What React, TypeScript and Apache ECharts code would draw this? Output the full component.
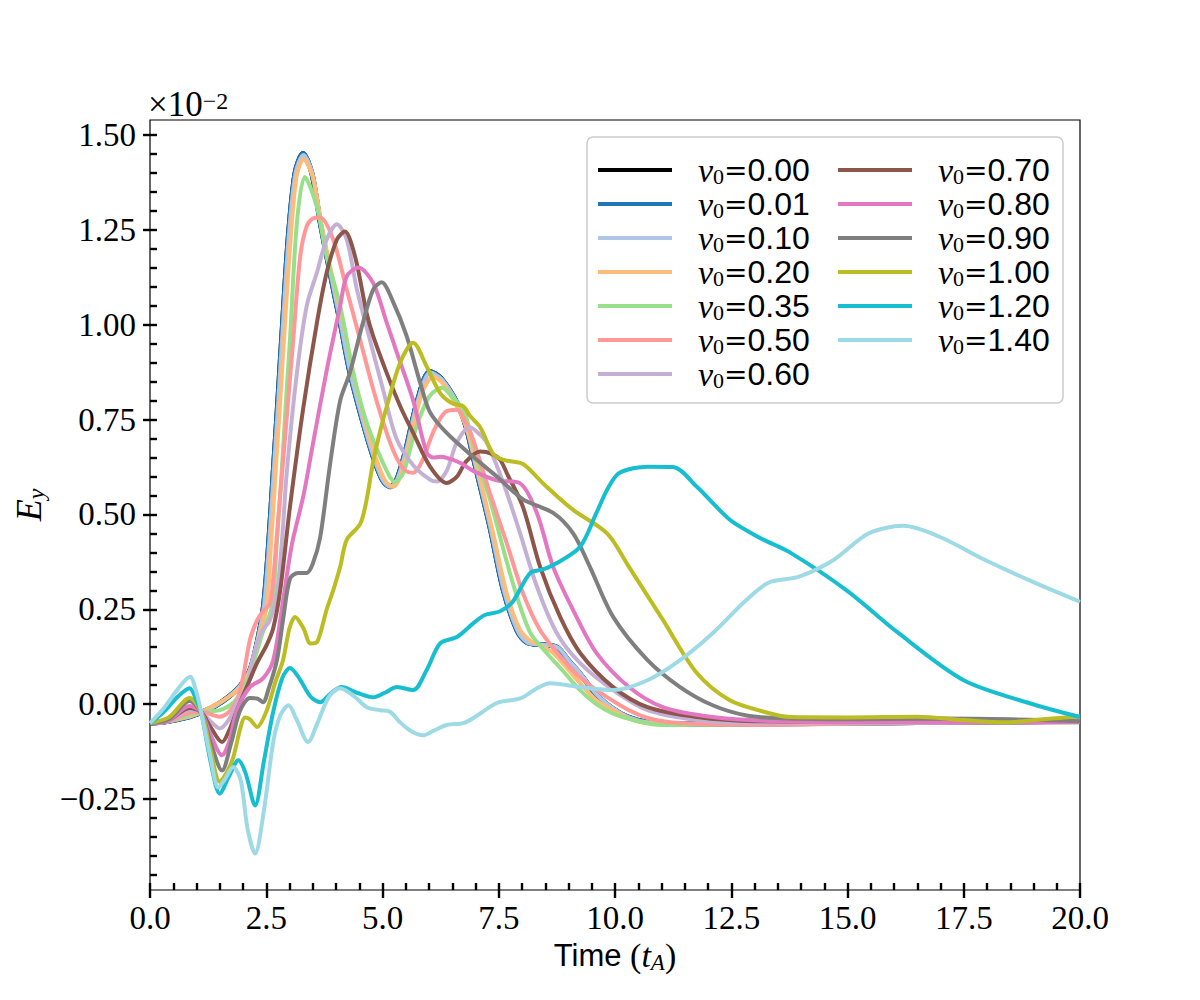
import React, { useEffect, useRef } from "react";
import * as echarts from "echarts";

// ---- Data (displayed units, ×10^-2) ----
const NAMES = ["v0=0.00", "v0=0.01", "v0=0.10", "v0=0.20", "v0=0.35", "v0=0.50", "v0=0.60", "v0=0.70", "v0=0.80", "v0=0.90", "v0=1.00", "v0=1.20", "v0=1.40"];
const COLORS = ["#000000", "#1f77b4", "#aec7e8", "#ffbb78", "#98df8a", "#ff9896", "#c5b0d5", "#8c564b", "#e377c2", "#7f7f7f", "#bcbd22", "#17becf", "#9edae5"];

const X_MAJOR = [0, 2.5, 5, 7.5, 10, 12.5, 15, 17.5, 20];
const Y_MAJOR = [-0.25, 0, 0.25, 0.5, 0.75, 1.0, 1.25, 1.5];

const S_BASE: number[][] = [
  [0, -0.05], [0.4, -0.045], [0.8, -0.035], [1.1, -0.022], [1.4, -0.005], [1.7, 0.02], [1.95, 0.05], [2.15, 0.09], [2.3, 0.16],
  [2.44, 0.257], [2.55, 0.42], [2.65, 0.61], [2.75, 0.8], [2.83, 0.96], [2.97, 1.225], [3.12, 1.4], [3.29, 1.452], [3.48, 1.4],
  [3.66, 1.27], [3.87, 1.138], [4.09, 1.006], [4.3, 0.874], [4.58, 0.742], [4.8, 0.652], [5.0, 0.59], [5.16, 0.573], [5.3, 0.59],
  [5.5, 0.67], [5.75, 0.8], [6.02, 0.877], [6.25, 0.86], [6.6, 0.795], [6.8, 0.73], [6.95, 0.652], [7.31, 0.467], [7.6, 0.3],
  [7.89, 0.195], [8.1, 0.163], [8.3, 0.158], [8.75, 0.15], [9.0, 0.115], [9.25, 0.08], [9.6, 0.025], [9.96, -0.012], [10.3, -0.035],
  [10.7, -0.048], [11.5, -0.052], [12.5, -0.053], [13.5, -0.052], [15, -0.05], [17, -0.048], [20, -0.045],
];
const S000 = S_BASE;
const S001 = S_BASE;
const S010: number[][] = [
  [0, -0.05], [0.4, -0.045], [0.8, -0.035], [1.1, -0.022], [1.4, -0.005], [1.7, 0.02], [1.95, 0.05], [2.15, 0.09], [2.3, 0.16],
  [2.45, 0.257], [2.56, 0.42], [2.66, 0.61], [2.76, 0.8], [2.84, 0.96], [2.98, 1.225], [3.13, 1.4], [3.3, 1.448], [3.49, 1.4],
  [3.67, 1.27], [3.88, 1.138], [4.1, 1.006], [4.31, 0.874], [4.59, 0.742], [4.81, 0.652], [5.01, 0.59], [5.17, 0.573], [5.31, 0.59],
  [5.51, 0.67], [5.76, 0.8], [6.03, 0.874], [6.26, 0.858], [6.61, 0.793], [6.81, 0.73], [6.96, 0.652], [7.32, 0.467], [7.61, 0.3],
  [7.9, 0.195], [8.11, 0.163], [8.31, 0.158], [8.76, 0.15], [9.01, 0.115], [9.26, 0.08], [9.61, 0.025], [9.97, -0.012], [10.3, -0.035],
  [10.7, -0.048], [11.5, -0.052], [12.5, -0.053], [13.5, -0.052], [15, -0.05], [17, -0.048], [20, -0.045],
];
const S020: number[][] = [
  [0, -0.05], [0.4, -0.045], [0.8, -0.033], [1.1, -0.021], [1.4, -0.002], [1.7, 0.02], [1.95, 0.045], [2.15, 0.09], [2.3, 0.16],
  [2.51, 0.257], [2.6, 0.42], [2.7, 0.61], [2.8, 0.8], [2.88, 0.96], [3.02, 1.22], [3.15, 1.39], [3.3, 1.437], [3.5, 1.39],
  [3.68, 1.27], [3.9, 1.138], [4.15, 1.006], [4.37, 0.874], [4.63, 0.742], [4.85, 0.652], [5.05, 0.59], [5.23, 0.573], [5.38, 0.6],
  [5.6, 0.7], [5.85, 0.82], [6.09, 0.863], [6.3, 0.845], [6.6, 0.785], [6.8, 0.73], [7.03, 0.627], [7.38, 0.45], [7.67, 0.293],
  [7.96, 0.195], [8.2, 0.165], [8.32, 0.16], [8.67, 0.135], [9.0, 0.09], [9.25, 0.055], [9.6, 0.01], [9.96, -0.016], [10.3, -0.038],
  [10.7, -0.05], [12, -0.053], [14, -0.05], [17, -0.047], [20, -0.043],
];
const S035: number[][] = [
  [0, -0.05], [0.4, -0.045], [0.8, -0.03], [1.1, -0.021], [1.5, -0.016], [1.8, 0.005], [2.0, 0.04], [2.2, 0.1], [2.4, 0.18],
  [2.62, 0.257], [2.73, 0.43], [2.83, 0.61], [2.92, 0.79], [3.01, 0.96], [3.16, 1.27], [3.33, 1.39], [3.59, 1.31], [3.8, 1.18],
  [4.09, 1.05], [4.37, 0.874], [4.66, 0.742], [5.01, 0.636], [5.27, 0.586], [5.45, 0.61], [5.7, 0.72], [6.0, 0.81], [6.28, 0.834],
  [6.5, 0.81], [6.74, 0.776], [6.9, 0.71], [7.1, 0.62], [7.31, 0.54], [7.8, 0.32], [8.17, 0.19], [8.53, 0.135], [8.9, 0.085],
  [9.25, 0.037], [9.6, 0.0], [9.96, -0.025], [10.5, -0.045], [11, -0.055], [13, -0.053], [16, -0.05], [20, -0.045],
];
const S050: number[][] = [
  [0, -0.05], [0.4, -0.045], [0.8, -0.025], [1.1, -0.021], [1.5, -0.033], [1.7, -0.02], [1.87, 0.01], [2.0, 0.07], [2.15, 0.17],
  [2.3, 0.22], [2.43, 0.245], [2.58, 0.265], [2.65, 0.33], [2.72, 0.433], [2.9, 0.697], [3.08, 0.96], [3.23, 1.18], [3.37, 1.26],
  [3.5, 1.28], [3.66, 1.283], [3.94, 1.225], [4.23, 1.093], [4.52, 0.96], [4.8, 0.83], [5.09, 0.715], [5.3, 0.65], [5.5, 0.615],
  [5.66, 0.61], [5.85, 0.64], [6.1, 0.72], [6.35, 0.77], [6.6, 0.776], [6.8, 0.74], [6.95, 0.697], [7.31, 0.557], [7.67, 0.425],
  [8.02, 0.293], [8.39, 0.195], [8.89, 0.116], [9.25, 0.07], [9.6, 0.037], [10.3, -0.016], [10.8, -0.04], [11.4, -0.05],
  [13, -0.055], [15, -0.052], [20, -0.045],
];
const S060: number[][] = [
  [0, -0.05], [0.4, -0.045], [0.85, -0.015], [1.1, -0.021], [1.3, -0.045], [1.5, -0.064], [1.7, -0.04], [1.87, 0.003], [2.08, 0.045],
  [2.22, 0.125], [2.4, 0.19], [2.58, 0.222], [2.73, 0.293], [2.85, 0.45], [2.94, 0.61], [3.16, 0.874], [3.37, 1.05], [3.59, 1.138],
  [3.8, 1.225], [4.02, 1.265], [4.23, 1.225], [4.45, 1.093], [4.73, 0.96], [5.01, 0.83], [5.3, 0.7], [5.66, 0.63], [6.02, 0.592],
  [6.17, 0.587], [6.38, 0.615], [6.6, 0.69], [6.88, 0.73], [7.1, 0.71], [7.24, 0.69], [7.6, 0.583], [7.96, 0.45], [8.32, 0.31],
  [8.75, 0.187], [9.25, 0.108], [9.96, 0.037], [10.7, -0.016], [11.76, -0.042], [13, -0.05], [16, -0.05], [20, -0.047],
];
const S070: number[][] = [
  [0, -0.05], [0.4, -0.043], [0.85, -0.01], [1.1, -0.021], [1.3, -0.06], [1.55, -0.1], [1.7, -0.07], [1.87, -0.016], [2.08, 0.045],
  [2.3, 0.108], [2.51, 0.156], [2.65, 0.2], [2.8, 0.3], [3.01, 0.52], [3.3, 0.784], [3.59, 1.006], [3.8, 1.138], [4.02, 1.225],
  [4.19, 1.246], [4.41, 1.18], [4.66, 1.03], [4.8, 0.97], [5.1, 0.87], [5.4, 0.78], [5.66, 0.715], [6.02, 0.627], [6.38, 0.583],
  [6.6, 0.6], [6.8, 0.64], [7.1, 0.666], [7.35, 0.66], [7.53, 0.644], [7.67, 0.61], [8.02, 0.52], [8.39, 0.362], [8.82, 0.23],
  [9.25, 0.135], [9.96, 0.045], [10.7, -0.008], [11.76, -0.034], [13, -0.045], [16, -0.047], [20, -0.048],
];
const S080: number[][] = [
  [0, -0.05], [0.4, -0.043], [0.85, -0.005], [1.1, -0.021], [1.3, -0.08], [1.55, -0.135], [1.7, -0.1], [1.87, -0.016], [2.15, 0.045],
  [2.43, 0.068], [2.65, 0.116], [2.87, 0.28], [3.05, 0.42], [3.3, 0.55], [3.51, 0.69], [3.8, 0.88], [4.09, 1.05], [4.23, 1.128],
  [4.48, 1.151], [4.8, 1.11], [5.09, 1.006], [5.3, 0.93], [5.66, 0.8], [5.95, 0.663], [6.1, 0.65], [6.24, 0.652], [6.67, 0.636],
  [6.95, 0.615], [7.46, 0.59], [7.96, 0.582], [8.32, 0.504], [8.67, 0.362], [9.1, 0.248], [9.6, 0.135], [10.3, 0.045], [11.03, -0.008],
  [12.1, -0.034], [13.5, -0.045], [16, -0.048], [20, -0.047],
];
const S090: number[][] = [
  [0, -0.05], [0.4, -0.04], [0.85, 0.008], [1.1, -0.021], [1.3, -0.1], [1.55, -0.175], [1.75, -0.1], [1.94, -0.016], [2.15, 0.016],
  [2.3, 0.015], [2.43, 0.005], [2.55, 0.04], [2.73, 0.116], [2.87, 0.23], [3.01, 0.33], [3.18, 0.346], [3.37, 0.346], [3.5, 0.37],
  [3.66, 0.44], [3.87, 0.63], [4.09, 0.8], [4.3, 0.874], [4.58, 1.006], [4.8, 1.093], [4.98, 1.112], [5.23, 1.06], [5.52, 0.97],
  [5.81, 0.847], [6.02, 0.77], [6.38, 0.715], [6.95, 0.652], [7.46, 0.6], [8.02, 0.54], [8.67, 0.504], [9.1, 0.45], [9.46, 0.362],
  [9.96, 0.23], [10.7, 0.116], [11.4, 0.045], [12.1, -0.003], [12.83, -0.03], [13.55, -0.037], [15, -0.04], [17, -0.038],
  [18.5, -0.04], [20, -0.045],
];
const S100: number[][] = [
  [0, -0.05], [0.4, -0.035], [0.85, 0.016], [1.1, -0.021], [1.3, -0.12], [1.5, -0.205], [1.65, -0.18], [1.79, -0.14], [1.95, -0.06],
  [2.04, -0.035], [2.15, -0.04], [2.3, -0.06], [2.5, -0.02], [2.7, 0.06], [2.86, 0.116], [3.0, 0.2], [3.12, 0.23], [3.3, 0.2],
  [3.45, 0.16], [3.6, 0.165], [3.8, 0.25], [3.94, 0.3], [4.09, 0.362], [4.23, 0.433], [4.52, 0.475], [4.66, 0.54], [4.8, 0.64],
  [4.95, 0.72], [5.09, 0.784], [5.38, 0.9], [5.66, 0.953], [5.95, 0.89], [6.24, 0.82], [6.5, 0.793], [6.74, 0.785], [6.88, 0.76],
  [7.1, 0.73], [7.38, 0.66], [7.6, 0.644], [7.96, 0.636], [8.1, 0.626], [8.53, 0.573], [9.1, 0.512], [9.83, 0.45], [10.3, 0.362],
  [11.03, 0.222], [11.76, 0.082], [12.47, 0.01], [13.2, -0.02], [13.76, -0.034], [15, -0.035], [16.5, -0.033], [17.5, -0.042],
  [18.4, -0.048], [19.2, -0.04], [20, -0.032],
];
const S120: number[][] = [
  [0, -0.05], [0.3, -0.02], [0.6, 0.02], [0.85, 0.042], [1.0, 0.01], [1.1, -0.021], [1.3, -0.15], [1.5, -0.236], [1.7, -0.19],
  [1.9, -0.148], [2.05, -0.18], [2.26, -0.267], [2.45, -0.15], [2.65, -0.02], [2.85, 0.07], [3.01, 0.095], [3.2, 0.07], [3.45, 0.02],
  [3.66, 0.005], [3.9, 0.03], [4.12, 0.045], [4.45, 0.03], [4.8, 0.018], [5.05, 0.03], [5.31, 0.045], [5.66, 0.037], [5.95, 0.09],
  [6.24, 0.16], [6.6, 0.177], [6.95, 0.213], [7.2, 0.235], [7.53, 0.245], [7.8, 0.27], [8.17, 0.345], [8.45, 0.355], [8.75, 0.372],
  [9.25, 0.415], [9.6, 0.504], [9.85, 0.57], [10.1, 0.61], [10.7, 0.626], [11.25, 0.625], [11.76, 0.573], [12.47, 0.486],
  [13.0, 0.446], [13.2, 0.433], [13.76, 0.4], [14.98, 0.3], [16.1, 0.187], [17.5, 0.063], [18.9, 0.003], [20, -0.034],
];
const S140: number[][] = [
  [0, -0.05], [0.3, -0.01], [0.6, 0.04], [0.86, 0.072], [1.0, 0.03], [1.1, -0.021], [1.3, -0.14], [1.47, -0.22], [1.6, -0.2],
  [1.79, -0.166], [1.95, -0.2], [2.1, -0.33], [2.26, -0.394], [2.45, -0.28], [2.65, -0.1], [2.8, -0.03], [2.98, -0.003], [3.15, -0.04],
  [3.4, -0.1], [3.6, -0.05], [3.85, 0.02], [4.09, 0.042], [4.4, 0.02], [4.66, -0.008], [4.95, -0.016], [5.16, -0.02], [5.37, -0.047],
  [5.6, -0.07], [5.87, -0.082], [6.1, -0.07], [6.38, -0.055], [6.74, -0.05], [7.0, -0.033], [7.46, 0.003], [7.96, 0.015], [8.3, 0.04],
  [8.6, 0.055], [9.25, 0.045], [9.96, 0.037], [10.7, 0.063], [11.4, 0.116], [12.1, 0.187], [12.83, 0.275], [13.3, 0.32],
  [13.96, 0.336], [14.7, 0.38], [15.45, 0.45], [16.2, 0.47], [17.0, 0.44], [17.96, 0.38], [18.9, 0.327], [20, 0.27],
];

const SERIES_DATA = [S000, S001, S010, S020, S035, S050, S060, S070, S080, S090, S100, S120, S140];

const SERIF = "'Liberation Serif', 'DejaVu Serif', serif";
const SANS = "'Liberation Sans', 'DejaVu Sans', sans-serif";

function ticks(start: number, end: number, step: number): number[] {
  const out: number[] = [];
  const n = Math.round((end - start) / step);
  for (let i = 0; i <= n; i++) out.push(Math.round((start + i * step) * 1000) / 1000);
  return out;
}
const X_MINOR = ticks(0, 20, 0.5);
const Y_MINOR = ticks(-0.45, 1.5, 0.05);

const X_MIN = 0, X_MAX = 20, Y_MIN = -0.49, Y_MAX = 1.54;

const legendRich = {
  v: { fontFamily: SERIF, fontStyle: "italic", fontSize: 34, lineHeight: 34, color: "#000", verticalAlign: "middle", padding: [0, 0, 0, 21] },
  s: { fontFamily: SERIF, fontSize: 22, lineHeight: 18, color: "#000", verticalAlign: "bottom" },
  e: { fontFamily: "'DejaVu Serif', serif", fontSize: 28, lineHeight: 34, color: "#000", verticalAlign: "middle" },
  n: { fontFamily: SANS, fontSize: 32, lineHeight: 34, color: "#000", verticalAlign: "middle" },
};
const legendFormatter = (name: string) => `{v|v}{s|0}{e|=}{n|${name.split("=")[1]}}`;

export default function App() {
  const ref = useRef<HTMLDivElement>(null);
  useEffect(() => {
    if (!ref.current) return;
    const chart = echarts.init(ref.current, null, { renderer: "svg" });
    const tickStyle = { color: "#000", width: 2.4 };
    const option: any = {
      animation: false,
      backgroundColor: "#fff",
      grid: { left: 150, right: 120, top: 120, bottom: 110, show: true, borderColor: "#000", borderWidth: 1.2, backgroundColor: "transparent" },
      xAxis: [
        {
          type: "value", min: X_MIN, max: X_MAX, position: "bottom",
          axisLine: { show: false, onZero: false },
          splitLine: { show: false },
          axisTick: { show: true, inside: false, length: 8, customValues: X_MAJOR, lineStyle: tickStyle },
          axisLabel: {
            show: true, customValues: X_MAJOR, margin: 11, color: "#000", fontFamily: SERIF, fontSize: 33,
            formatter: (v: number) => v.toFixed(1),
          },
          name: "{a|Time }{p|(}{t|t}{s|A}{p|)}",
          nameLocation: "middle",
          nameGap: 41,
          nameTextStyle: {
            rich: {
              a: { fontFamily: SANS, fontSize: 31, lineHeight: 36, color: "#000", verticalAlign: "middle" },
              p: { fontFamily: SERIF, fontSize: 34, lineHeight: 36, color: "#000", verticalAlign: "middle" },
              t: { fontFamily: SERIF, fontStyle: "italic", fontSize: 34, lineHeight: 36, color: "#000", verticalAlign: "middle" },
              s: { fontFamily: SERIF, fontStyle: "italic", fontSize: 23, lineHeight: 20, color: "#000", verticalAlign: "bottom" },
            },
          },
        },
        {
          type: "value", min: X_MIN, max: X_MAX, position: "bottom",
          axisLine: { show: false, onZero: false },
          splitLine: { show: false },
          axisTick: { show: true, inside: true, length: 7, customValues: X_MINOR, lineStyle: tickStyle },
          axisLabel: { show: false },
        },
      ],
      yAxis: [
        {
          type: "value", min: Y_MIN, max: Y_MAX, position: "left",
          axisLine: { show: false, onZero: false },
          splitLine: { show: false },
          axisTick: { show: true, inside: false, length: 7, customValues: Y_MAJOR, lineStyle: tickStyle },
          axisLabel: {
            show: true, customValues: Y_MAJOR, margin: 14, color: "#000", fontFamily: SERIF, fontSize: 33,
            formatter: (v: number) => v.toFixed(2).replace("-", "\u2212"),
          },
          name: "{e|E}{s|y}",
          nameLocation: "middle",
          nameRotate: 90,
          nameGap: 102,
          nameTextStyle: {
            rich: {
              e: { fontFamily: SERIF, fontStyle: "italic", fontSize: 36, lineHeight: 38, color: "#000", verticalAlign: "middle" },
              s: { fontFamily: SERIF, fontStyle: "italic", fontSize: 24, lineHeight: 20, color: "#000", verticalAlign: "bottom" },
            },
          },
        },
        {
          type: "value", min: Y_MIN, max: Y_MAX, position: "left",
          axisLine: { show: false, onZero: false },
          splitLine: { show: false },
          axisTick: { show: true, inside: true, length: 7, customValues: Y_MINOR, lineStyle: tickStyle },
          axisLabel: { show: false },
        },
      ],
      legend: [
        {
          data: NAMES.slice(0, 7), orient: "vertical", left: 598, top: 153, padding: 0, itemGap: 0,
          icon: "rect", itemWidth: 74, itemHeight: 4, selectedMode: false,
          formatter: legendFormatter, textStyle: { rich: legendRich },
        },
        {
          data: NAMES.slice(7), orient: "vertical", left: 838, top: 153, padding: 0, itemGap: 0,
          icon: "rect", itemWidth: 74, itemHeight: 4, selectedMode: false,
          formatter: legendFormatter, textStyle: { rich: legendRich },
        },
      ],
      graphic: [
        {
          type: "rect", z: 3, silent: true,
          shape: { x: 587, y: 137, width: 476, height: 266, r: 6 },
          style: { fill: "rgba(255,255,255,0.8)", stroke: "#cccccc", lineWidth: 1.5 },
        },
        {
          type: "text", z: 5, silent: true, x: 148, y: 89,
          style: {
            text: "{a|\u00d710}{b|\u22122}",
            verticalAlign: "top",
            rich: {
              a: { fontFamily: SERIF, fontSize: 35, lineHeight: 33, fill: "#000", verticalAlign: "bottom" },
              b: { fontFamily: SERIF, fontSize: 24, lineHeight: 20, fill: "#000", verticalAlign: "top" },
            },
          },
        },
      ],
      series: SERIES_DATA.map((d, i) => ({
        name: NAMES[i],
        type: "line",
        xAxisIndex: 0,
        yAxisIndex: 0,
        data: d,
        color: COLORS[i],
        showSymbol: false,
        symbol: "none",
        smooth: 0.3,
        lineStyle: { color: COLORS[i], width: i <= 1 ? 5 : 4 },
        itemStyle: { color: COLORS[i] },
        emphasis: { disabled: true },
        z: 2,
      })),
    };
    chart.setOption(option);
    return () => chart.dispose();
  }, []);
  return <div ref={ref} style={{ position: "absolute", left: 0, top: 0, width: 1200, height: 1000 }} />;
}
